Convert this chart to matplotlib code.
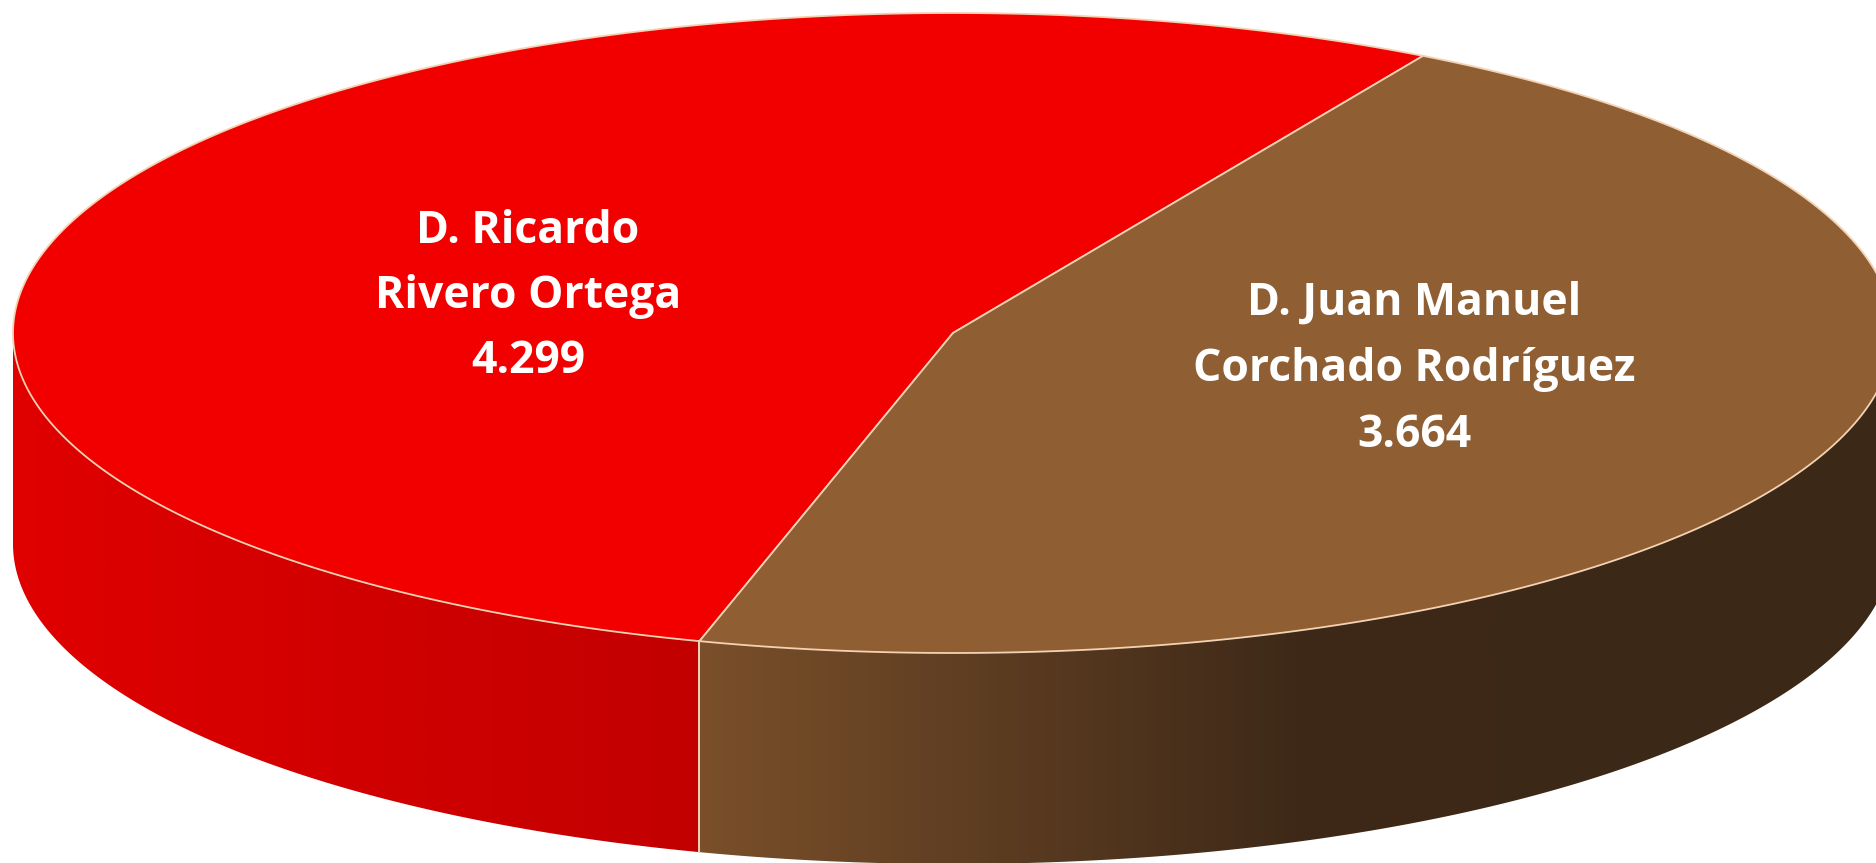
import numpy as np
import matplotlib.pyplot as plt
from matplotlib.patches import Polygon
from matplotlib.colors import LinearSegmentedColormap

# data
candidates = [["D. Ricardo", "Rivero Ortega"], ["D. Juan Manuel", "Corchado Rodríguez"]]
votes = [4299, 3664]
vote_labels = ["4.299", "3.664"]
top_colors = ["#F20000", "#8F5F33"]
side_stops = [[(0, "#E00000"), (1, "#C20000")],
              [(0, "#7A4F2A"), (0.5, "#3E2918"), (1, "#3B2816")]]

W, H = 1876, 863
fig = plt.figure(figsize=(W / 100, H / 100), dpi=100)
ax = fig.add_axes([0, 0, 1, 1])

# ellipse geometry of the 3d pie (pixels)
cx, cy, a, b, depth = 953, 333, 940, 320, 211
start = 60.0
edge = "#F3D2B4"


def ell(t, dz=0.0):
    t = np.radians(t)
    return np.column_stack([cx + a * np.cos(t), cy - b * np.sin(t) + dz])


fracs = np.array(votes) / sum(votes)
bounds = start + 360 * np.concatenate([[0], np.cumsum(fracs)])

# sides (front half only, angles 180..360)
for i in range(len(votes)):
    t0, t1 = bounds[i], bounds[i + 1]
    for shift in (0, -360, 360):
        lo, hi = max(t0 + shift, 180), min(t1 + shift, 360)
        if hi <= lo:
            continue
        ts = np.linspace(lo, hi, 200)
        top = ell(ts)
        bot = ell(ts[::-1], depth)
        poly = Polygon(np.vstack([top, bot]), closed=True, fc="none", ec="none")
        ax.add_patch(poly)
        x0, x1 = top[:, 0].min(), top[:, 0].max()
        cmap = LinearSegmentedColormap.from_list("s%d" % i, side_stops[i])
        grad = np.linspace(0, 1, 512).reshape(1, -1)
        im = ax.imshow(grad, cmap=cmap, aspect="auto", interpolation="bilinear",
                       extent=(x0, x1, cy + b + depth + 5, cy - 5))
        im.set_clip_path(poly)
        # vertical edges between slices
        for t in (lo, hi):
            if 180 < t < 360:
                p = ell([t])[0]
                ax.plot([p[0], p[0]], [p[1], p[1] + depth], color=edge, lw=1.3)

# top faces
for i in range(len(votes)):
    ts = np.linspace(bounds[i], bounds[i + 1], 400)
    pts = np.vstack([[cx, cy], ell(ts)])
    ax.add_patch(Polygon(pts, closed=True, fc=top_colors[i], ec=edge, lw=1.3,
                         joinstyle="round"))

# labels
label_pos = [(528, [243, 308, 373]), (1414, [315, 381, 447])]
for i in range(len(votes)):
    x, ys = label_pos[i]
    lines = candidates[i] + [vote_labels[i]]
    for y, s in zip(ys, lines):
        ax.text(x, y, s, ha="center", va="baseline", color="white",
                fontsize=32, fontweight="bold", family="Open Sans")

ax.set_xlim(0, W)
ax.set_ylim(H, 0)
ax.axis("off")
fig.savefig("out.png", dpi=100)
